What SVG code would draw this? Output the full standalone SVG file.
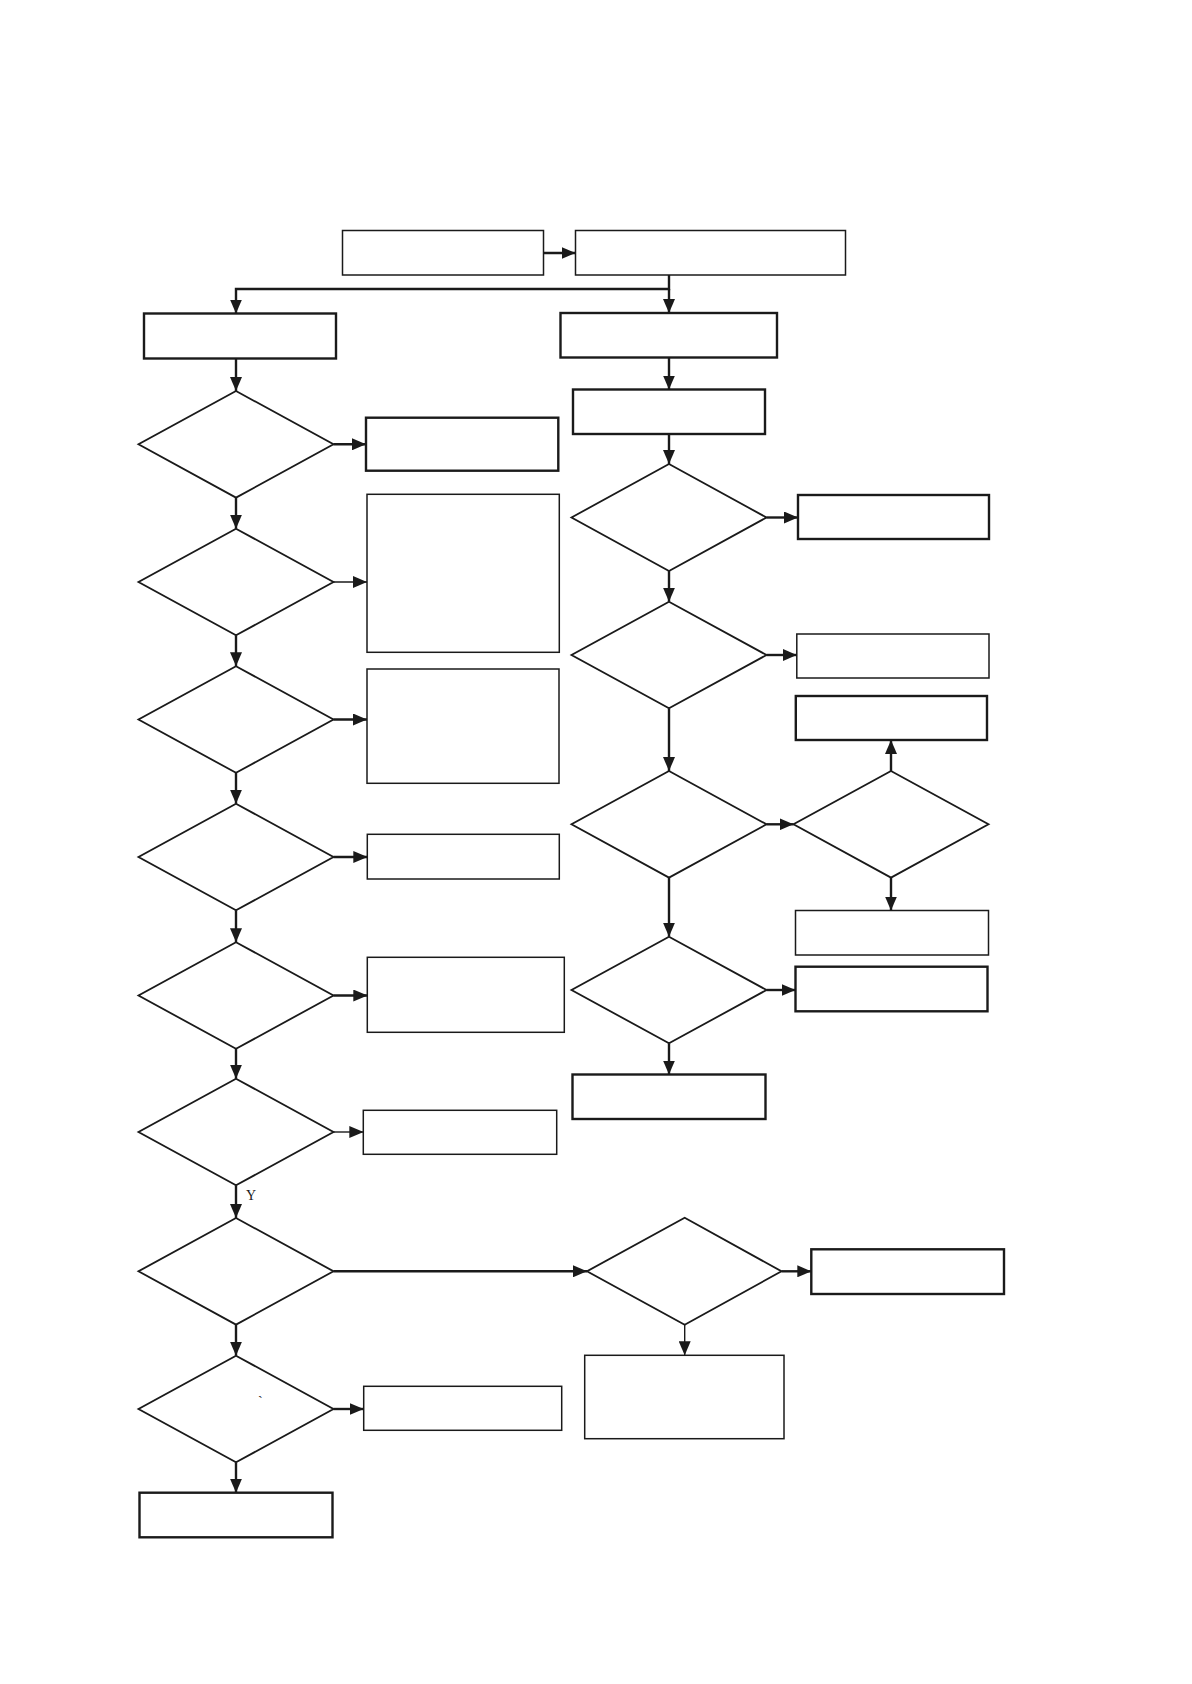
<svg xmlns="http://www.w3.org/2000/svg" width="1192" height="1684" viewBox="0 0 1192 1684">
<style>
.b{fill:#fff;stroke:#1a1a1a;stroke-width:2.4}
.t{fill:#fff;stroke:#1a1a1a;stroke-width:1.5}
.d{fill:#fff;stroke:#1a1a1a;stroke-width:1.8}
.c{fill:none;stroke:#1a1a1a;stroke-width:2.4}
.ct{fill:none;stroke:#1a1a1a;stroke-width:1.4}
.lbl{font-family:"Liberation Serif",serif;font-size:14px;fill:#1a1a1a}
</style>
<defs>
<marker id="ah" markerUnits="userSpaceOnUse" markerWidth="14" markerHeight="12" refX="14" refY="6" orient="auto">
<path d="M0,0 L14,6 L0,12 z" fill="#1a1a1a"/>
</marker>
</defs>
<rect width="1192" height="1684" fill="#fff"/>
<g id="nodes">
<g id="boxA"><rect class="t" x="342.5" y="230.5" width="201" height="44.5"/></g>
<g id="boxB"><rect class="t" x="575.5" y="230.5" width="270" height="44.5"/></g>
<g id="boxC"><rect class="b" x="144" y="313.5" width="192" height="45"/></g>
<g id="boxD"><rect class="b" x="560.5" y="313" width="216.5" height="44.5"/></g>
<g id="boxE"><rect class="b" x="573" y="389.5" width="192" height="44.5"/></g>
<g id="dL1"><polygon class="d" points="236,391 333.5,444.3 236,497.6 138.5,444.3"/></g>
<g id="dL2"><polygon class="d" points="236,528.7 333.5,582 236,635.3 138.5,582"/></g>
<g id="dL3"><polygon class="d" points="236,666.2 333.5,719.5 236,772.8 138.5,719.5"/></g>
<g id="dL4"><polygon class="d" points="236,803.7 333.5,857 236,910.3 138.5,857"/></g>
<g id="dL5"><polygon class="d" points="236,942.2 333.5,995.5 236,1048.8 138.5,995.5"/></g>
<g id="dL6"><polygon class="d" points="236,1078.7 333.5,1132 236,1185.3 138.5,1132"/></g>
<g id="dL7"><polygon class="d" points="236,1218 333.5,1271.3 236,1324.6 138.5,1271.3"/></g>
<g id="dL8"><polygon class="d" points="236,1355.7 333.5,1409 236,1462.3 138.5,1409"/></g>
<g id="boxL1"><rect class="b" x="366" y="417.7" width="192.3" height="53"/></g>
<g id="boxL2"><rect class="t" x="367" y="494.3" width="192.3" height="158"/></g>
<g id="boxL3"><rect class="t" x="367" y="669" width="192" height="114.3"/></g>
<g id="boxL4"><rect class="t" x="367.3" y="834.3" width="192" height="44.7"/></g>
<g id="boxL5"><rect class="t" x="367.3" y="957.3" width="197" height="75"/></g>
<g id="boxL6"><rect class="t" x="363.3" y="1110.3" width="193.4" height="44"/></g>
<g id="boxL8"><rect class="t" x="363.7" y="1386.3" width="198" height="44"/></g>
<g id="boxL9"><rect class="b" x="139.5" y="1492.7" width="193" height="44.6"/></g>
<g id="dR1"><polygon class="d" points="669,464 766.5,517.5 669,571 571.5,517.5"/></g>
<g id="dR2"><polygon class="d" points="669,601.7 766.5,655 669,708.3 571.5,655"/></g>
<g id="dR3"><polygon class="d" points="669,771 766.5,824.3 669,877.6 571.5,824.3"/></g>
<g id="dR3b"><polygon class="d" points="891,771 988.5,824.3 891,877.6 793.5,824.3"/></g>
<g id="dR4"><polygon class="d" points="669,936.7 766.5,990 669,1043.3 571.5,990"/></g>
<g id="boxR1"><rect class="b" x="798" y="495" width="191" height="44"/></g>
<g id="boxR2"><rect class="t" x="796.8" y="634" width="192.2" height="44"/></g>
<g id="boxR3up"><rect class="b" x="795.8" y="696" width="191.2" height="44"/></g>
<g id="boxR3down"><rect class="t" x="795.5" y="910.5" width="193" height="44.5"/></g>
<g id="boxR4"><rect class="b" x="795.5" y="966.7" width="192" height="44.6"/></g>
<g id="boxR5"><rect class="b" x="572.5" y="1074.5" width="193" height="44.5"/></g>
<g id="dRB"><polygon class="d" points="684.7,1217.7 781.5,1271.3 684.7,1324.8 587,1271.3"/></g>
<g id="boxRB1"><rect class="b" x="811.3" y="1249.3" width="192.7" height="44.7"/></g>
<g id="boxRB2"><rect class="t" x="584.7" y="1355.3" width="199.3" height="83.4"/></g>
</g>
<g id="connectors">
<line class="c" x1="543.5" y1="253" x2="575.5" y2="253" marker-end="url(#ah)"/>
<polyline class="c" points="669,275 669,289 236,289 236,313.5" marker-end="url(#ah)"/>
<line class="c" x1="669" y1="289" x2="669" y2="313" marker-end="url(#ah)"/>
<line class="c" x1="669" y1="357.5" x2="669" y2="389.5" marker-end="url(#ah)"/>
<line class="c" x1="669" y1="434" x2="669" y2="464" marker-end="url(#ah)"/>
<line class="c" x1="766.5" y1="517.5" x2="798" y2="517.5" marker-end="url(#ah)"/>
<line class="c" x1="669" y1="571" x2="669" y2="601.7" marker-end="url(#ah)"/>
<line class="c" x1="766.5" y1="655" x2="796.8" y2="655" marker-end="url(#ah)"/>
<line class="c" x1="669" y1="708.3" x2="669" y2="771" marker-end="url(#ah)"/>
<line class="c" x1="766.5" y1="824.3" x2="793.5" y2="824.3" marker-end="url(#ah)"/>
<line class="c" x1="891" y1="771" x2="891" y2="740" marker-end="url(#ah)"/>
<line class="c" x1="891" y1="877.6" x2="891" y2="910.5" marker-end="url(#ah)"/>
<line class="c" x1="669" y1="877.6" x2="669" y2="936.7" marker-end="url(#ah)"/>
<line class="c" x1="766.5" y1="990" x2="795.5" y2="990" marker-end="url(#ah)"/>
<line class="c" x1="669" y1="1043.3" x2="669" y2="1074.5" marker-end="url(#ah)"/>
<line class="c" x1="236" y1="358.5" x2="236" y2="391" marker-end="url(#ah)"/>
<line class="c" x1="333.5" y1="444.3" x2="366" y2="444.3" marker-end="url(#ah)"/>
<line class="c" x1="236" y1="497.6" x2="236" y2="528.7" marker-end="url(#ah)"/>
<line class="ct" x1="333.5" y1="582" x2="367" y2="582" marker-end="url(#ah)"/>
<line class="c" x1="236" y1="635.3" x2="236" y2="666.2" marker-end="url(#ah)"/>
<line class="c" x1="333.5" y1="719.5" x2="367" y2="719.5" marker-end="url(#ah)"/>
<line class="c" x1="236" y1="772.8" x2="236" y2="803.7" marker-end="url(#ah)"/>
<line class="c" x1="333.5" y1="857" x2="367.3" y2="857" marker-end="url(#ah)"/>
<line class="c" x1="236" y1="910.3" x2="236" y2="942.2" marker-end="url(#ah)"/>
<line class="c" x1="333.5" y1="995.5" x2="367.3" y2="995.5" marker-end="url(#ah)"/>
<line class="c" x1="236" y1="1048.8" x2="236" y2="1078.7" marker-end="url(#ah)"/>
<line class="ct" x1="333.5" y1="1132" x2="363.3" y2="1132" marker-end="url(#ah)"/>
<line class="c" x1="236" y1="1185.3" x2="236" y2="1218" marker-end="url(#ah)"/>
<line class="c" x1="333.5" y1="1271.3" x2="587" y2="1271.3" marker-end="url(#ah)"/>
<line class="c" x1="781.5" y1="1271.3" x2="811.3" y2="1271.3" marker-end="url(#ah)"/>
<line class="ct" x1="684.7" y1="1324.8" x2="684.7" y2="1355.3" marker-end="url(#ah)"/>
<line class="c" x1="236" y1="1324.6" x2="236" y2="1355.7" marker-end="url(#ah)"/>
<line class="c" x1="333.5" y1="1409" x2="363.7" y2="1409" marker-end="url(#ah)"/>
<line class="c" x1="236" y1="1462.3" x2="236" y2="1492.7" marker-end="url(#ah)"/>
</g>
<g id="labels">
<text class="lbl" x="246" y="1200">Y</text>
<text class="lbl" x="258" y="1406" font-size="9">`</text>
</g>
</svg>
